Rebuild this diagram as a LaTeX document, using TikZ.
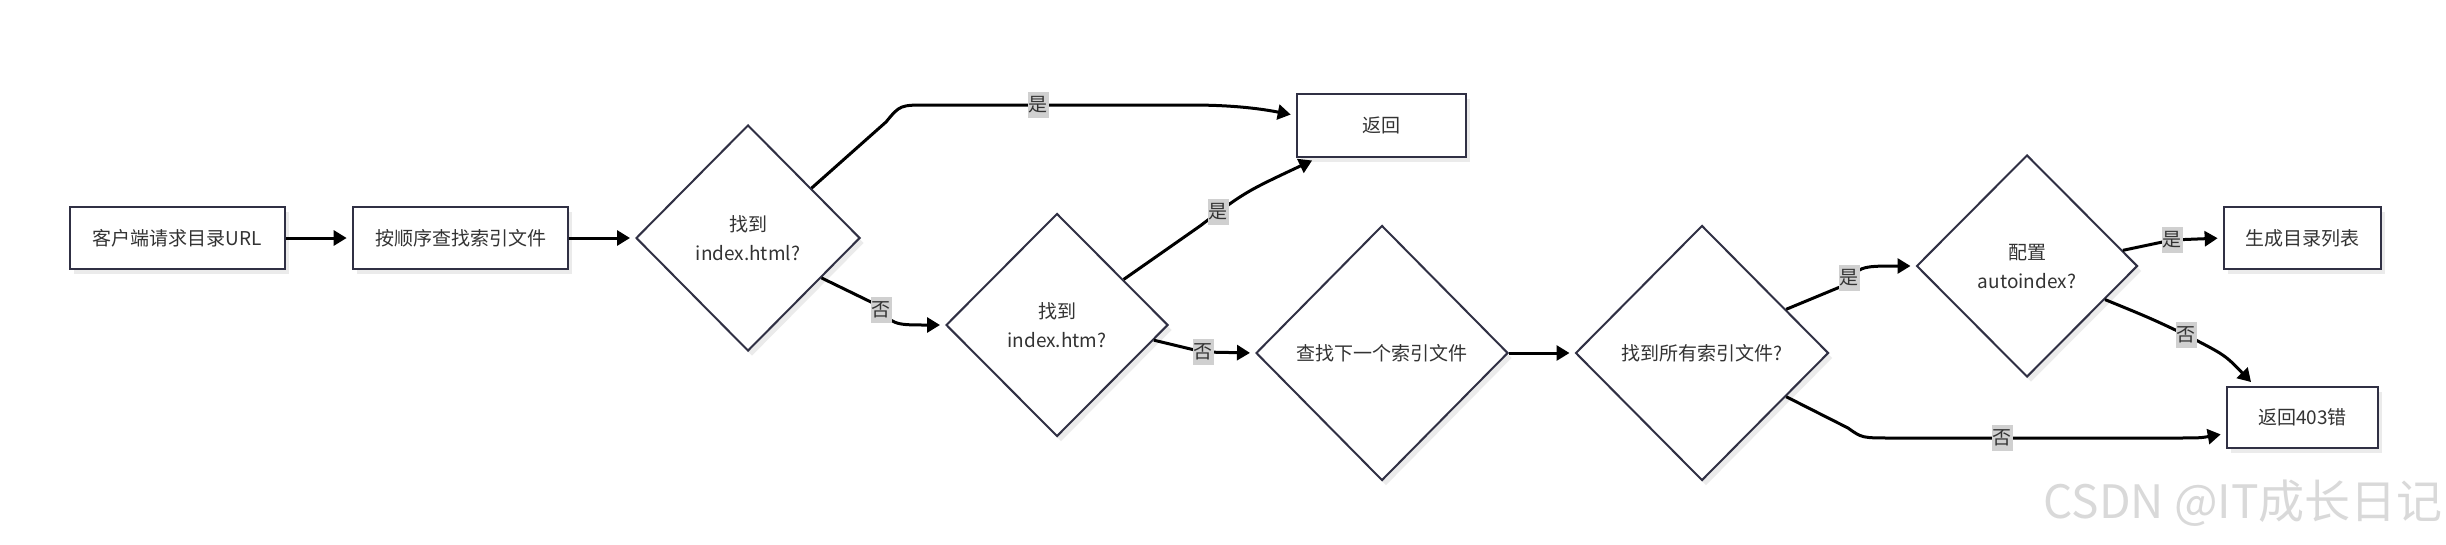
\documentclass[tikz,border=0pt]{standalone}
\usepackage{fontspec}
\setmainfont{Noto Sans CJK SC}
\usetikzlibrary{shapes.geometric,arrows.meta,calc,shadows}
\definecolor{bordc}{RGB}{48,48,68}
\definecolor{txtc}{RGB}{51,51,51}
\definecolor{lblbg}{RGB}{208,208,208}
\begin{document}
\begin{tikzpicture}[x=1pt,y=-1pt,
  base/.style={draw=bordc, fill=white, text=txtc, font=\fontsize{19}{29}\selectfont, align=center, inner sep=0pt,
    drop shadow={shadow xshift=4pt, shadow yshift=-5pt, fill=black!8, opacity=1}},
  proc/.style={base, rectangle, line width=2.7pt},
  decide/.style={base, diamond, line width=2pt},
  edge/.style={line width=3pt, -{Triangle[length=13pt,width=15pt]}, shorten >=5pt},
  lbl/.style={fill=lblbg, text=txtc, font=\fontsize{19}{19}\selectfont, inner xsep=1pt, inner ysep=4.5pt}]
\useasboundingbox (0,0) rectangle (2446,544);
\fill[white] (0,0) rectangle (2446,544);

% nodes
\node[proc, minimum width=215pt, minimum height=62pt] (B1) at (177.5,238) {客户端请求目录URL};
\node[proc, minimum width=215pt, minimum height=62pt] (B2) at (460.5,238) {按顺序查找索引文件};
\node[decide, minimum width=224pt, minimum height=226pt] (D1) at (748,238) {找到\\index.html?};
\node[decide, minimum width=222pt, minimum height=223pt] (D2) at (1057,325) {找到\\index.htm?};
\node[proc, minimum width=169pt, minimum height=63pt] (R1) at (1381.5,125.5) {返回};
\node[decide, minimum width=252pt, minimum height=255pt] (D3) at (1382,353) {查找下一个索引文件};
\node[decide, minimum width=253pt, minimum height=255pt] (D4) at (1702,353) {找到所有索引文件?};
\node[decide, minimum width=221pt, minimum height=222pt] (D5) at (2027,266) {配置\\autoindex?};
\node[proc, minimum width=157pt, minimum height=62pt] (G) at (2302.5,238) {生成目录列表};
\node[proc, minimum width=151pt, minimum height=61pt] (E) at (2302.5,417.5) {返回403错};

% start points on diamond edges
\coordinate (s1) at ($(D1.north)!0.5625!(D1.east)$);
\coordinate (s3) at ($(D1.south)!0.65!(D1.east)$);
\coordinate (s2) at ($(D2.north)!0.595!(D2.east)$);
\coordinate (s4) at ($(D2.south)!0.865!(D2.east)$);
\coordinate (s5) at ($(D4.north)!0.66!(D4.east)$);
\coordinate (s8) at ($(D4.south)!0.66!(D4.east)$);
\coordinate (s6) at ($(D5.north)!0.86!(D5.east)$);
\coordinate (s7) at ($(D5.south)!0.70!(D5.east)$);

% edges
\draw[edge] (B1.east) -- (B2.west);
\draw[edge] (B2.east) -- (D1.west);
\draw[edge] (s1) -- (886,122) .. controls (900,105) .. (928,105) -- (1190,105)
   .. controls (1235,105) and (1262,109) .. ([yshift=10pt]R1.west);
\draw[edge] (s2) -- (1200,226) .. controls (1245,192) .. ([xshift=21pt]R1.south west);
\draw[edge] (s3) -- (873,303) .. controls (893,325) .. (D2.west);
\draw[edge] (s4) -- (1203,352) -- (D3.west);
\draw[edge] (D3.east) -- (D4.west);
\draw[edge] (s5) -- (1840,287) .. controls (1860,266) .. (D5.west);
\draw[edge] (s6) -- (2172,240) -- (G.west);
\draw[edge] (s7) .. controls (2150,318) .. (2186,335) .. controls (2225,355) .. ([xshift=-48pt]E.north);
\draw[edge] (s8) -- (1848,428) .. controls (1862,438) .. (1892,438) -- (2170,438)
   .. controls (2200,438) .. ([yshift=-16pt]E.west);

% edge labels
\node[lbl] (l1) at (1038,105) {是};
\node[lbl] (l2) at (1218,212) {是};
\node[lbl] (l3) at (881,310) {否};
\node[lbl] (l4) at (1203,352) {否};
\node[lbl] (l5) at (1849,278) {是};
\node[lbl] (l6) at (2172,240) {是};
\node[lbl] (l7) at (2186,335) {否};
\node[lbl] (l8) at (2002,438) {否};

% watermark
\node[anchor=east, inner sep=0pt, font=\fontsize{46}{46}\selectfont, text=black!15] (wm) at (2443,503) {CSDN @IT成长日记};
\end{tikzpicture}
\end{document}
